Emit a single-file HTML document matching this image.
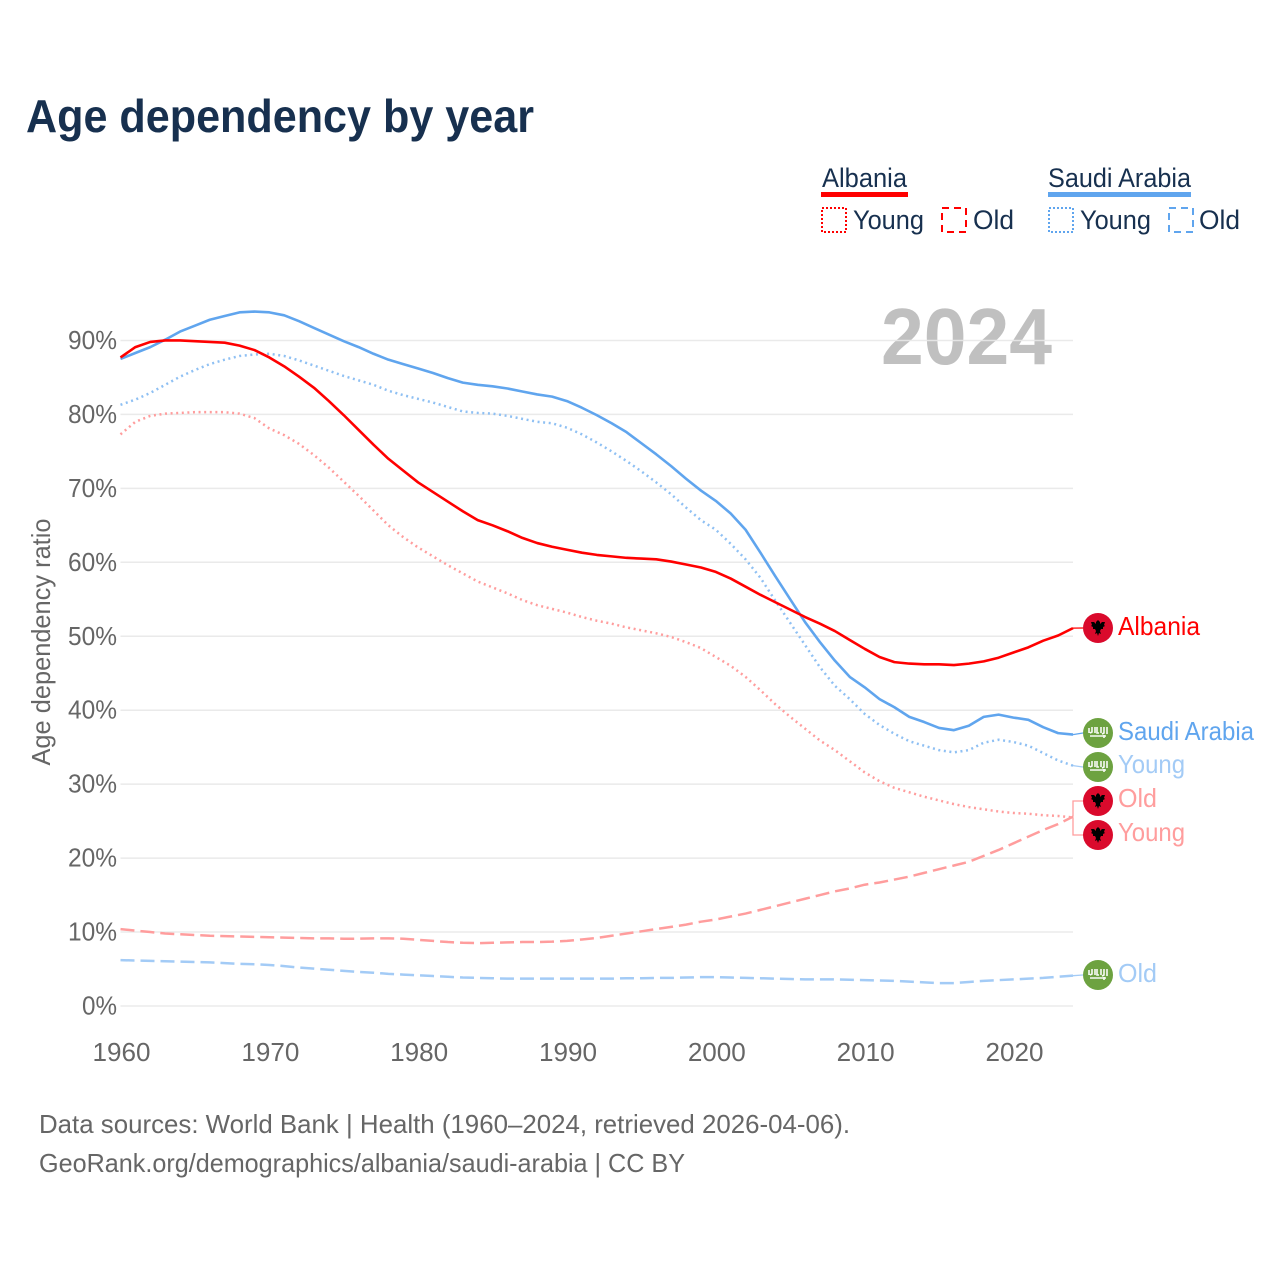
<!DOCTYPE html>
<html lang="en">
<head>
<meta charset="utf-8">
<title>Age dependency by year</title>
<style>
html,body{margin:0;padding:0;background:#fff;width:1280px;height:1280px;overflow:hidden}
svg{display:block}
text{font-family:"Liberation Sans",sans-serif}
</style>
</head>
<body>
<svg id="chart" xmlns="http://www.w3.org/2000/svg" width="1280" height="1280" viewBox="0 0 1280 1280">
  <text x="26" y="132" font-size="46" font-weight="bold" fill="#17304f" textLength="508" lengthAdjust="spacingAndGlyphs">Age dependency by year</text>

  <g>
    <g>
      <text x="822" y="187" font-size="27" fill="#17304f" textLength="85" lengthAdjust="spacingAndGlyphs">Albania</text>
      <rect x="821" y="192" width="87" height="5" fill="#ff0000"/>
      <rect x="822" y="208" width="24" height="24" fill="none" stroke="#ff0000" stroke-width="2" stroke-dasharray="2 2"/>
      <text x="853" y="229" font-size="27" fill="#17304f" textLength="71" lengthAdjust="spacingAndGlyphs">Young</text>
      <rect x="942" y="208" width="24" height="24" fill="none" stroke="#ff0000" stroke-width="2" stroke-dasharray="7 5"/>
      <text x="973" y="229" font-size="27" fill="#17304f" textLength="41" lengthAdjust="spacingAndGlyphs">Old</text>
    </g>
    <g>
      <text x="1048" y="187" font-size="27" fill="#17304f" textLength="143" lengthAdjust="spacingAndGlyphs">Saudi Arabia</text>
      <rect x="1048" y="192" width="143" height="5" fill="#60a5ee"/>
      <rect x="1049" y="208" width="24" height="24" fill="none" stroke="#60a5ee" stroke-width="2" stroke-dasharray="2 2"/>
      <text x="1080" y="229" font-size="27" fill="#17304f" textLength="71" lengthAdjust="spacingAndGlyphs">Young</text>
      <rect x="1169" y="208" width="24" height="24" fill="none" stroke="#60a5ee" stroke-width="2" stroke-dasharray="7 5"/>
      <text x="1199" y="229" font-size="27" fill="#17304f" textLength="41" lengthAdjust="spacingAndGlyphs">Old</text>
    </g>
  </g>

  <text x="881" y="364" font-size="80" font-weight="bold" fill="#c0c0c0" textLength="171" lengthAdjust="spacingAndGlyphs">2024</text>

  <g id="grid"></g>
  <g id="yticks"></g>
  <g id="xticks"></g>

  <text transform="translate(50 642) rotate(-90)" text-anchor="middle" font-size="26" fill="#666666" textLength="247" lengthAdjust="spacingAndGlyphs">Age dependency ratio</text>

  <g id="series"></g>
  <g id="connectors"></g>
  <g id="endlabels"></g>

  <text x="39" y="1133" font-size="26" fill="#666666" textLength="811" lengthAdjust="spacingAndGlyphs">Data sources: World Bank | Health (1960–2024, retrieved 2026-04-06).</text>
  <text x="39" y="1172" font-size="26" fill="#666666" textLength="646" lengthAdjust="spacingAndGlyphs">GeoRank.org/demographics/albania/saudi-arabia | CC BY</text>
</svg>

<script>
const startYear = 1960;
const endYear = 2024;
const yTickValues = [0, 10, 20, 30, 40, 50, 60, 70, 80, 90];
const xTickValues = [1960, 1970, 1980, 1990, 2000, 2010, 2020];

const albaniaTotal = [87.7,89.1,89.8,90.0,90.0,89.9,89.8,89.7,89.3,88.7,87.7,86.5,85.1,83.6,81.8,79.9,77.9,75.9,74.0,72.4,70.8,69.5,68.2,66.9,65.7,65.0,64.2,63.3,62.6,62.1,61.7,61.3,61.0,60.8,60.6,60.5,60.4,60.1,59.7,59.3,58.7,57.8,56.7,55.6,54.6,53.6,52.6,51.7,50.7,49.5,48.3,47.2,46.5,46.3,46.2,46.2,46.1,46.3,46.6,47.1,47.8,48.5,49.4,50.1,51.1];
const saudiTotal = [87.5,88.3,89.1,90.1,91.2,92.0,92.8,93.3,93.8,93.9,93.8,93.4,92.6,91.7,90.8,89.9,89.1,88.2,87.4,86.8,86.2,85.6,84.9,84.3,84.0,83.8,83.5,83.1,82.7,82.4,81.8,80.9,79.9,78.8,77.6,76.1,74.6,73.0,71.3,69.7,68.3,66.6,64.4,61.3,58.1,55.0,51.9,49.2,46.7,44.5,43.1,41.5,40.4,39.1,38.4,37.6,37.3,37.9,39.1,39.4,39.0,38.7,37.7,36.9,36.7];
const saudiYoung = [81.3,82.0,82.9,84.0,85.1,86.0,86.8,87.4,87.9,88.1,88.2,87.9,87.3,86.6,85.9,85.2,84.6,84.0,83.2,82.6,82.1,81.6,81.0,80.4,80.2,80.1,79.8,79.4,79.0,78.8,78.2,77.3,76.2,75.0,73.7,72.3,70.8,69.2,67.4,65.7,64.4,62.5,60.4,57.9,54.8,51.8,48.8,45.8,43.3,41.5,39.5,38.0,36.8,35.8,35.2,34.6,34.3,34.6,35.6,36.0,35.7,35.2,34.2,33.2,32.5];
const albaniaYoung = [77.3,79.0,79.8,80.1,80.2,80.3,80.3,80.3,80.1,79.5,78.1,77.2,76.0,74.5,72.8,70.9,69.0,67.0,65.0,63.4,62.0,60.8,59.6,58.5,57.4,56.6,55.8,54.9,54.2,53.7,53.2,52.6,52.1,51.7,51.2,50.8,50.4,49.9,49.2,48.4,47.2,46.0,44.5,42.7,40.8,39.1,37.5,35.9,34.6,33.1,31.6,30.4,29.5,28.9,28.3,27.8,27.3,26.9,26.6,26.3,26.1,26.0,25.8,25.7,25.5];
const albaniaOld = [10.4,10.2,10.0,9.8,9.7,9.6,9.5,9.45,9.4,9.35,9.3,9.25,9.2,9.15,9.15,9.1,9.1,9.15,9.15,9.1,8.95,8.8,8.65,8.55,8.5,8.55,8.6,8.65,8.65,8.7,8.8,9.0,9.2,9.5,9.8,10.1,10.4,10.7,11.0,11.4,11.7,12.1,12.5,13.0,13.5,14.0,14.5,15.0,15.5,15.9,16.4,16.7,17.1,17.5,18.0,18.5,19.0,19.5,20.3,21.1,22.0,22.9,23.8,24.6,25.6];
const saudiOld = [6.2,6.15,6.1,6.05,6.0,5.95,5.9,5.8,5.7,5.65,5.55,5.4,5.2,5.05,4.9,4.75,4.6,4.5,4.35,4.25,4.15,4.05,3.95,3.85,3.8,3.75,3.7,3.7,3.7,3.7,3.7,3.7,3.7,3.7,3.75,3.75,3.8,3.8,3.85,3.9,3.9,3.85,3.8,3.75,3.7,3.65,3.6,3.6,3.6,3.55,3.5,3.45,3.4,3.3,3.2,3.1,3.1,3.25,3.4,3.5,3.6,3.7,3.8,3.95,4.1];

const NS = 'http://www.w3.org/2000/svg';
const plotLeft = 120.5, plotRight = 1073, plotZero = 1006, pxPerPct = 7.395;
const xScale = function (year) { return plotLeft + (year - startYear) * (plotRight - plotLeft) / (endYear - startYear); };
const yScale = function (v) { return plotZero - v * pxPerPct; };

function make(tag, attrs, parent) {
  const el = document.createElementNS(NS, tag);
  for (const k in attrs) el.setAttribute(k, attrs[k]);
  parent.appendChild(el);
  return el;
}

const gridG = document.getElementById('grid');
const yG = document.getElementById('yticks');
yTickValues.forEach(function (v) {
  const line = make('line', { x1: plotLeft, x2: plotRight, y1: yScale(v), y2: yScale(v), stroke: '#e8e8e8', 'stroke-width': 1.5, 'stroke-opacity': 0.9 }, gridG);
  
  
  const t = make('text', { x: 117, y: yScale(v) + 8.5, 'text-anchor': 'end', 'font-size': 26, fill: '#666666', textLength: v === 0 ? 35 : 49, lengthAdjust: 'spacingAndGlyphs' }, yG);
  
  
  t.textContent = v + '%';
});

const xG = document.getElementById('xticks');
xTickValues.forEach(function (yr) {
  const t = make('text', { x: xScale(yr) + 1, y: 1061, 'text-anchor': 'middle', 'font-size': 26, fill: '#666666', textLength: 58, lengthAdjust: 'spacingAndGlyphs' }, xG);
  
  
  t.textContent = yr;
});

function pathFrom(values) {
  return values.map(function (v, i) {
    return (i ? 'L' : 'M') + xScale(startYear + i).toFixed(2) + ' ' + yScale(v).toFixed(2);
  }).join(' ');
}

const DOT = '2 3.6', DASH = '14 6';
const seriesDefs = [
  { values: saudiOld, name: 'line-saudi-old', color: '#a3cbf6', width: 2.5, dash: DASH },
  { values: albaniaOld, name: 'line-albania-old', color: '#ff9d9d', width: 2.5, dash: DASH },
  { values: albaniaYoung, name: 'line-albania-young', color: '#ff9d9d', width: 2.5, dash: DOT },
  { values: saudiYoung, name: 'line-saudi-young', color: '#8fc0f3', width: 2.5, dash: DOT },
  { values: saudiTotal, name: 'line-saudi-total', color: '#60a5ee', width: 2.6, dash: null },
  { values: albaniaTotal, name: 'line-albania-total', color: '#ff0000', width: 2.6, dash: null }
];
const seriesG = document.getElementById('series');
seriesDefs.forEach(function (s) {
  const p = make('path', { d: pathFrom(s.values), fill: 'none', stroke: s.color, 'stroke-width': s.width, 'stroke-linejoin': 'round' }, seriesG);
  if (s.dash) p.setAttribute('stroke-dasharray', s.dash);
  
  
});

const last = function (arr) { return arr[arr.length - 1]; };
const connG = document.getElementById('connectors');
const connectorDefs = [
  { d: 'M' + plotRight + ' ' + yScale(last(albaniaTotal)) + ' L1083 628', color: '#ff0000', name: 'connector-albania' },
  { d: 'M' + plotRight + ' ' + yScale(last(saudiTotal)) + ' L1083 733', color: '#60a5ee', name: 'connector-saudi' },
  { d: 'M' + plotRight + ' ' + yScale(last(saudiYoung)) + ' L1083 767', color: '#a3cbf6', name: 'connector-saudi-young' },
  { d: 'M' + plotRight + ' ' + yScale(last(albaniaOld)) + ' V801 H1083', color: '#ff9d9d', name: 'connector-albania-old' },
  { d: 'M' + plotRight + ' ' + yScale(last(albaniaYoung)) + ' V835 H1083', color: '#ff9d9d', name: 'connector-albania-young' },
  { d: 'M' + plotRight + ' ' + yScale(last(saudiOld)) + ' L1083 975', color: '#a3cbf6', name: 'connector-saudi-old' }
];
connectorDefs.forEach(function (c) {
  const p = make('path', { d: c.d, fill: 'none', stroke: c.color, 'stroke-width': 1.3 }, connG);
  
  
});

const endLabelG = document.getElementById('endlabels');
const eagle = 'M0 -8 L2 -6 L2 -4 L4 -6 L7 -6 L6 -3 L7 -2 L5 -1 L5 1 L3 1 L2 3 L3 6 L1 5 L0 8 L-1 5 L-3 6 L-2 3 L-3 1 L-5 1 L-5 -1 L-7 -2 L-6 -3 L-7 -6 L-4 -6 L-2 -4 L-2 -6 Z';
function drawFlag(g, country, cx, cy) {
  if (country === 'albania') {
    make('circle', { cx: cx, cy: cy, r: 15, fill: '#da0a2c' }, g);
    make('path', { d: eagle, transform: 'translate(' + cx + ' ' + cy + ')', fill: '#000000' }, g);
  } else {
    make('circle', { cx: cx, cy: cy, r: 15, fill: '#6da240' }, g);
    const emblem = make('path', {
      d: 'M-9 -5 V0 M-6 -6 V-1 L-8 0 M-3 -6 V0 M-1 -6 V0 H1 M3 -6 V0 M6 -6 V0 L4 1 M9 -6 V1 M-8 3 H8 M6 2 V5',
      transform: 'translate(' + cx + ' ' + cy + ')',
      fill: 'none', stroke: '#ffffff', 'stroke-width': 1.6
    }, g);
    emblem.setAttribute('opacity', '0.95');
  }
}
const endLabelDefs = [
  { text: 'Albania', country: 'albania', cy: 628, base: 635, width: 82, color: '#ff0000', name: 'end-label-albania' },
  { text: 'Saudi Arabia', country: 'saudi', cy: 733, base: 740, width: 136, color: '#60a5ee', name: 'end-label-saudi-arabia' },
  { text: 'Young', country: 'saudi', cy: 767, base: 773, width: 67, color: '#a3cbf6', name: 'end-label-saudi-young' },
  { text: 'Old', country: 'albania', cy: 801, base: 807, width: 39, color: '#ff9d9d', name: 'end-label-albania-old' },
  { text: 'Young', country: 'albania', cy: 835, base: 841, width: 67, color: '#ff9d9d', name: 'end-label-albania-young' },
  { text: 'Old', country: 'saudi', cy: 975, base: 982, width: 39, color: '#a3cbf6', name: 'end-label-saudi-old' }
];
endLabelDefs.forEach(function (d) {
  const g = make('g', {}, endLabelG);
  
  
  drawFlag(g, d.country, 1098, d.cy);
  const t = make('text', { x: 1118, y: d.base, 'font-size': 26, fill: d.color, textLength: d.width, lengthAdjust: 'spacingAndGlyphs' }, g);
  t.textContent = d.text;
});
</script>
</body>
</html>
